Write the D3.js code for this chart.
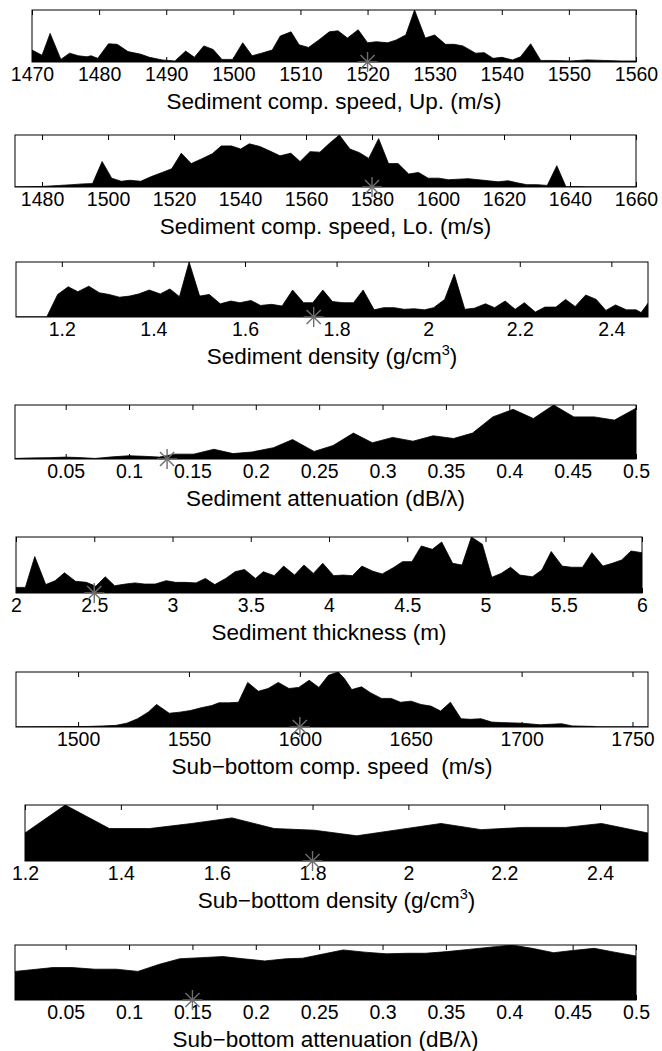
<!DOCTYPE html>
<html>
<head>
<meta charset="utf-8">
<script src="https://cdn.jsdelivr.net/npm/d3@7"></script>
<style>
  body { margin: 0; background: #fff; }
  text { font-family: "Liberation Sans", Arial, sans-serif; fill: #000; }
</style>
</head>
<body>
<div class="chart"></div>
<script>
// ---- data (heights are relative, peak = 1) ----
const upSpeedX = [1470,1471.5,1472.7,1474.3,1475.6,1476.9,1478.2,1478.8,1479.8,1481.4,1482.7,1484.3,1486.2,1487.5,1489.4,1491.3,1492.9,1494.2,1495.6,1497,1498.3,1499.9,1501.4,1502.8,1504.2,1505.8,1507,1508.6,1509.8,1511.2,1512.7,1514.3,1515.6,1517,1518.6,1520,1521.3,1523,1524.2,1525.7,1527,1528.6,1530,1531.6,1532.9,1534.2,1536.1,1537.4,1538.7,1540,1541.6,1542.8,1544.3,1545.8,1547.6,1550.2,1552.7,1555.3,1557.8,1560];
const upSpeedY = [0.23,0.13,0.55,0.05,0.17,0.12,0.10,0.12,0.07,0.35,0.34,0.20,0.15,0.09,0.04,0.02,0.21,0.09,0.31,0.24,0.05,0.05,0.37,0.12,0.17,0.23,0.50,0.58,0.33,0.28,0.42,0.58,0.60,0.46,0.62,0.37,0.39,0.37,0.42,0.52,1.0,0.46,0.52,0.34,0.34,0.31,0.17,0.18,0.07,0.09,0.04,0.10,0.35,0.03,0.03,0.02,0.04,0.03,0.02,0.02];

const loSpeedX = [1471.8,1480,1485.2,1489.1,1492.3,1495.3,1498.2,1501.1,1504,1506.6,1509.9,1513.1,1516.4,1519.3,1522.2,1525.2,1528.3,1531.6,1534.3,1537.4,1540.2,1542.8,1546,1549.1,1552.1,1555.4,1558.2,1561.2,1564.2,1567.1,1570.1,1573.3,1576.2,1579,1582,1585,1587.9,1591.1,1594.1,1597,1600.2,1603.2,1606.1,1609.1,1612.3,1615.2,1618.2,1621.3,1624,1626.9,1630.1,1633.1,1636,1638.8,1641.8,1645.1,1649,1660];
const loSpeedY = [0,0.01,0.03,0.045,0.06,0.065,0.49,0.17,0.11,0.13,0.11,0.20,0.28,0.35,0.65,0.45,0.54,0.64,0.79,0.79,0.73,0.83,0.78,0.69,0.60,0.65,0.49,0.68,0.67,0.84,1.0,0.73,0.66,0.55,0.93,0.45,0.45,0.25,0.28,0.17,0.17,0.14,0.15,0.16,0.14,0.12,0.10,0.12,0.08,0.045,0.045,0.03,0.41,0,0.01,0,0,0];

const sedDensX = [1.1,1.167,1.191,1.214,1.235,1.259,1.282,1.303,1.326,1.348,1.368,1.391,1.415,1.436,1.457,1.478,1.501,1.522,1.546,1.569,1.589,1.613,1.634,1.658,1.681,1.704,1.728,1.748,1.770,1.791,1.814,1.837,1.858,1.882,1.903,1.926,1.947,1.970,1.992,2.012,2.036,2.057,2.080,2.101,2.125,2.145,2.168,2.190,2.210,2.234,2.255,2.279,2.300,2.321,2.344,2.367,2.388,2.409,2.433,2.454,2.465,2.48];
const sedDensY = [0,0,0.41,0.55,0.46,0.56,0.44,0.41,0.36,0.38,0.42,0.49,0.42,0.51,0.37,1.0,0.38,0.41,0.24,0.29,0.26,0.30,0.21,0.23,0.20,0.49,0.26,0.26,0.49,0.28,0.26,0.26,0.49,0.13,0.17,0.17,0.14,0.15,0.13,0.17,0.32,0.78,0.14,0.16,0.24,0.17,0.29,0.14,0.26,0.09,0.18,0.18,0.32,0.19,0.40,0.32,0.12,0.22,0.13,0.13,0.08,0.25];

const sedAttX = [0.01,0.023,0.037,0.05,0.063,0.073,0.087,0.100,0.112,0.124,0.136,0.151,0.167,0.182,0.197,0.214,0.229,0.246,0.261,0.277,0.292,0.308,0.324,0.340,0.356,0.371,0.387,0.403,0.419,0.435,0.451,0.467,0.483,0.5];
const sedAttY = [0.01,0.02,0.025,0.035,0.025,0.01,0.04,0.06,0.05,0.035,0.09,0.09,0.18,0.10,0.13,0.21,0.36,0.14,0.25,0.48,0.30,0.40,0.33,0.43,0.38,0.48,0.78,0.92,0.75,1.0,0.78,0.78,0.72,0.94];

const sedThickX = [2.0,2.06,2.12,2.19,2.25,2.31,2.38,2.45,2.51,2.57,2.63,2.70,2.76,2.82,2.89,2.96,3.02,3.08,3.15,3.21,3.27,3.34,3.40,3.46,3.53,3.58,3.65,3.71,3.78,3.84,3.90,3.96,4.03,4.09,4.15,4.21,4.28,4.34,4.41,4.47,4.53,4.59,4.66,4.72,4.79,4.85,4.91,4.98,5.04,5.10,5.16,5.22,5.30,5.36,5.42,5.49,5.55,5.62,5.68,5.75,5.81,5.87,5.93,6.0];
const sedThickY = [0.10,0.10,0.65,0.15,0.22,0.36,0.21,0.19,0.12,0.29,0.13,0.16,0.18,0.16,0.16,0.22,0.19,0.19,0.18,0.26,0.15,0.26,0.38,0.42,0.26,0.38,0.31,0.48,0.32,0.50,0.35,0.53,0.31,0.32,0.31,0.48,0.39,0.34,0.45,0.56,0.56,0.84,0.78,0.91,0.53,0.50,1.0,0.87,0.28,0.35,0.46,0.32,0.29,0.41,0.74,0.48,0.46,0.46,0.72,0.48,0.53,0.59,0.75,0.72];

const subSpeedX = [1472,1504.8,1511.5,1517.2,1522,1526.8,1531.6,1535.4,1541.1,1545.9,1550.7,1555.5,1560.3,1563.5,1567.9,1572.3,1576.5,1581.3,1585.7,1590.3,1595.1,1599.5,1604.2,1608.6,1612.9,1617.3,1620.1,1623.4,1627.8,1632,1636.8,1641.2,1645.4,1650.2,1654.6,1659.1,1663.5,1667.9,1672.7,1676.9,1681.7,1686.5,1690.9,1699.9,1708.5,1718,1722.8,1732.4,1734,1757];
const subSpeedY = [0,0.01,0.02,0.03,0.07,0.15,0.27,0.41,0.25,0.27,0.30,0.35,0.39,0.44,0.44,0.45,0.81,0.65,0.70,0.81,0.70,0.72,0.85,0.72,0.94,1.0,0.88,0.68,0.73,0.62,0.52,0.52,0.45,0.47,0.41,0.38,0.29,0.45,0.15,0.14,0.15,0.09,0.08,0.07,0.04,0.06,0.02,0.01,0,0];

const subDensX = [1.2,1.284,1.376,1.460,1.548,1.632,1.720,1.804,1.892,1.980,2.068,2.152,2.240,2.328,2.403,2.5];
const subDensY = [0.50,1.0,0.58,0.58,0.67,0.77,0.58,0.55,0.45,0.56,0.67,0.56,0.60,0.60,0.67,0.50];

const subAttX = [0.01,0.023,0.040,0.055,0.073,0.090,0.107,0.124,0.140,0.157,0.174,0.190,0.207,0.224,0.237,0.254,0.269,0.286,0.303,0.320,0.334,0.351,0.368,0.385,0.402,0.418,0.435,0.450,0.467,0.483,0.5];
const subAttY = [0.52,0.55,0.59,0.59,0.56,0.56,0.52,0.65,0.75,0.77,0.79,0.75,0.71,0.75,0.76,0.84,0.91,0.87,0.84,0.85,0.85,0.88,0.92,0.96,1.0,0.94,0.86,0.90,0.94,0.87,0.80];

// tick values and axis titles
const ticksUpSpeed = d3.range(1470, 1561, 10);
const ticksLoSpeed = d3.range(1480, 1661, 20);
const ticksDensity = [1.2, 1.4, 1.6, 1.8, 2, 2.2, 2.4];
const ticksAtten = [0.05, 0.1, 0.15, 0.2, 0.25, 0.3, 0.35, 0.4, 0.45, 0.5];
const ticksThick = [2, 2.5, 3, 3.5, 4, 4.5, 5, 5.5, 6];
const ticksSubSpeed = [1500, 1550, 1600, 1650, 1700, 1750];

// true values (asterisks)
const trueValues = [1520, 1580, 1.75, 0.13, 2.5, 1600, 1.8, 0.15];

const titles = [
  ["Sediment comp. speed, Up. (m/s)"],
  ["Sediment comp. speed, Lo. (m/s)"],
  ["Sediment density (g/cm", "3", ")"],
  ["Sediment attenuation (dB/\u03bb)"],
  ["Sediment thickness (m)"],
  ["Sub\u2212bottom comp. speed  (m/s)"],
  ["Sub\u2212bottom density (g/cm", "3", ")"],
  ["Sub\u2212bottom attenuation (dB/\u03bb)"]
];

// ---- layout ----
const width = 662, height = 1051;

const panels = [
  {xs: upSpeedX,   ys: upSpeedY,   dom: [1470, 1560],  ticks: ticksUpSpeed,  left: 32, right: 636, top: 10,  bottom: 62},
  {xs: loSpeedX,   ys: loSpeedY,   dom: [1471.8, 1660], ticks: ticksLoSpeed, left: 15, right: 636, top: 135, bottom: 187},
  {xs: sedDensX,   ys: sedDensY,   dom: [1.1, 2.48],   ticks: ticksDensity,  left: 16, right: 648, top: 262, bottom: 317},
  {xs: sedAttX,    ys: sedAttY,    dom: [0.01, 0.5],   ticks: ticksAtten,    left: 15, right: 636, top: 405, bottom: 459},
  {xs: sedThickX,  ys: sedThickY,  dom: [2, 6],        ticks: ticksThick,    left: 16, right: 642, top: 537, bottom: 593},
  {xs: subSpeedX,  ys: subSpeedY,  dom: [1472, 1757],  ticks: ticksSubSpeed, left: 16, right: 648, top: 672, bottom: 727},
  {xs: subDensX,   ys: subDensY,   dom: [1.2, 2.5],    ticks: ticksDensity,  left: 25, right: 648, top: 805, bottom: 861},
  {xs: subAttX,    ys: subAttY,    dom: [0.01, 0.5],   ticks: ticksAtten,    left: 15, right: 636, top: 945, bottom: 1000}
];

const svg = d3.select('.chart').append('svg')
  .attr("width", width)
  .attr("height", height);

const fmt = v => String(+v.toFixed(3));

panels.forEach((p, i) => {
  const x = d3.scaleLinear().domain(p.dom).range([p.left, p.right]);
  const y = d3.scaleLinear().domain([0, 1]).range([p.bottom, p.top]);
  const g = svg.append("g");
  const data = p.xs.map((v, k) => ({x: v, y: p.ys[k]}));

  const clipId = "clip" + i;
  svg.append("clipPath").attr("id", clipId)
    .append("rect")
    .attr("x", p.left).attr("y", p.top)
    .attr("width", p.right - p.left).attr("height", p.bottom - p.top);

  const area = d3.area()
    .x(d => x(d.x))
    .y0(y(0))
    .y1(d => y(d.y));

  g.append("path")
    .datum(data)
    .attr("clip-path", `url(#${clipId})`)
    .attr("fill", "#000")
    .attr("stroke", "#000")
    .attr("stroke-width", 0.8)
    .attr("d", area);

  // ticks inside the box, top and bottom
  const bottomAxis = d3.axisBottom(x).tickValues(p.ticks).tickSize(-5).tickPadding(5).tickFormat(fmt);
  const ax = g.append("g")
    .attr("class", "axis")
    .attr("transform", `translate(0,${p.bottom})`)
    .call(bottomAxis);
  ax.select(".domain").remove();
  ax.selectAll("line").attr("stroke", "#000");
  ax.selectAll("text").attr("font-size", 19.5).attr("font-family", "Liberation Sans, Arial, sans-serif").attr("fill", "#000");

  const topAxis = d3.axisTop(x).tickValues(p.ticks).tickSize(-5).tickFormat("");
  const axTop = g.append("g")
    .attr("transform", `translate(0,${p.top})`)
    .call(topAxis);
  axTop.select(".domain").remove();
  axTop.selectAll("line").attr("stroke", "#000");

  g.append("rect")
    .attr("x", p.left).attr("y", p.top)
    .attr("width", p.right - p.left).attr("height", p.bottom - p.top)
    .attr("fill", "none")
    .attr("stroke", "#000")
    .attr("stroke-width", 1);

  // asterisk marker at the true value
  const cx = x(trueValues[i]), cy = p.bottom, r = 10;
  const star = g.append("g").attr("transform", `translate(${cx},${cy})`)
    .attr("stroke", "#6e6e6e").attr("stroke-width", 1.4);
  [0, 45, 90, 135].forEach(a => {
    const rad = a * Math.PI / 180;
    star.append("line")
      .attr("x1", -r * Math.cos(rad)).attr("y1", -r * Math.sin(rad))
      .attr("x2", r * Math.cos(rad)).attr("y2", r * Math.sin(rad));
  });

  // axis title
  const t = svg.append("text")
    .attr("x", (p.left + p.right) / 2)
    .attr("y", p.bottom + 47)
    .attr("text-anchor", "middle")
    .attr("font-size", 22.5)
    .style("white-space", "pre");
  const parts = titles[i];
  t.append("tspan").text(parts[0]);
  if (parts.length > 1) {
    t.append("tspan").attr("dy", -9).attr("font-size", 14.5).text(parts[1]);
    t.append("tspan").attr("dy", 9).text(parts[2]);
  }
});
</script>
</body>
</html>
